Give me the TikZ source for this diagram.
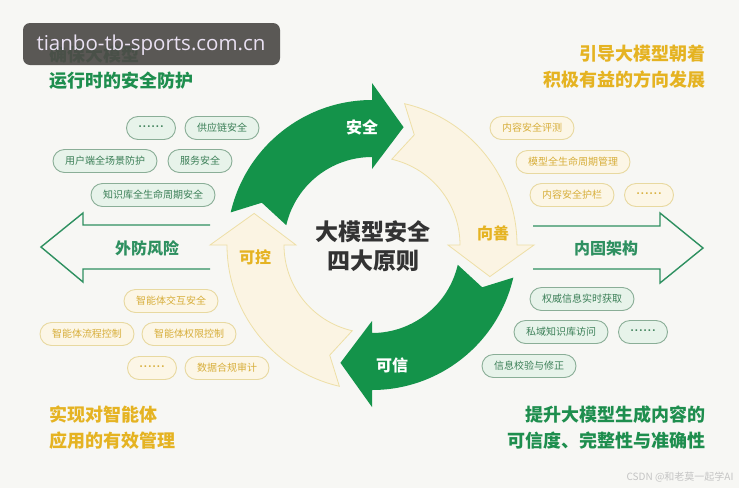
\documentclass[tikz,border=0pt]{standalone}
\usepackage{fontspec}
\setmainfont{Noto Sans CJK SC}[BoldFont={Noto Sans CJK SC Bold}]
\newfontfamily\heavy{Noto Sans CJK SC Black}
\newfontfamily\wmfont{Open Sans}
\definecolor{bg}{HTML}{F7F7F4}
\definecolor{gfill}{HTML}{14934A}
\definecolor{gtitle}{HTML}{1E8E4E}
\definecolor{yfill}{HTML}{FBF4E3}
\definecolor{yedge}{HTML}{EEDFA6}
\definecolor{ytext}{HTML}{E5B322}
\definecolor{gpfill}{HTML}{E7F3EA}
\definecolor{gpedge}{HTML}{8AAE97}
\definecolor{gptext}{HTML}{3B7F57}
\definecolor{ypfill}{HTML}{FCF6E6}
\definecolor{ypedge}{HTML}{E8D9A0}
\definecolor{yptext}{HTML}{D7AE3A}
\definecolor{outl}{HTML}{2E9060}
\definecolor{ctext}{HTML}{333333}
\definecolor{wmbg}{HTML}{4D4B48}
\definecolor{wmtext}{HTML}{E9E0F2}
\definecolor{csdn}{HTML}{C4C4C4}
\newcommand\RingArrow[3]{%
  \path[#3] (#1:145) arc[start angle=#1,end angle=#2,radius=145]
    -- (#2:162) -- ({#2-15}:122) -- (#2:76) -- (#2:88)
    arc[start angle=#2,end angle=#1,radius=88] -- ({#1-8}:118) -- cycle;}
\newcommand\sixdots{{\wmfont\fontsize{11}{12}\selectfont\bfseries ·\kern1.2pt·\kern1.2pt·\kern1.2pt·\kern1.2pt·\kern1.2pt·}}
\tikzset{
  gtitle/.style={font=\heavy\fontsize{18}{20}\selectfont, text=gtitle, inner sep=0},
  ytitle/.style={font=\heavy\fontsize{18}{20}\selectfont, text=ytext, inner sep=0},
  gpill/.style={draw=gpedge, fill=gpfill, line width=0.9, text=gptext, rounded corners=11.5,
    minimum height=23, inner xsep=12, inner ysep=0, font=\fontsize{10}{12}\selectfont},
  ypill/.style={draw=ypedge, fill=ypfill, line width=0.9, text=yptext, rounded corners=11.5,
    minimum height=23, inner xsep=12, inner ysep=0, font=\fontsize{10}{12}\selectfont},
  dots/.style={minimum width=49, inner xsep=0},
  garr/.style={fill=gfill},
  yarr/.style={fill=yfill, draw=yedge, line width=0.8},
  glabel/.style={font=\heavy\fontsize{16}{18}\selectfont, text=white},
  ylabel/.style={font=\heavy\fontsize{16}{18}\selectfont, text=ytext},
  sidearrow/.style={draw=outl, line width=1.4, line join=miter},
  sidetext/.style={font=\heavy\fontsize{16}{18}\selectfont, text=outl},
}
\begin{document}
\begin{tikzpicture}[x=1pt,y=-1pt]
\useasboundingbox (0,0) rectangle (739,488);
\fill[bg] (0,0) rectangle (739,488);

% ring
\begin{scope}[shift={(372,245)}, yscale=-1]
  \RingArrow{77}{0}{yarr}
  \RingArrow{-103}{-180}{yarr}
  \RingArrow{167}{90}{garr}
  \RingArrow{-13}{-90}{garr}
\end{scope}
\node[glabel] (l1) at (362,127) {安全};
\node[ylabel] (l2) at (493,233) {向善};
\node[glabel] (l3) at (392,365) {可信};
\node[ylabel] (l4) at (255,257) {可控};
\node[font=\heavy\fontsize{23}{25}\selectfont, text=ctext] (c1) at (373,232) {大模型安全};
\node[font=\heavy\fontsize{23}{25}\selectfont, text=ctext] (c2) at (373,261) {四大原则};

% side arrows
\draw[sidearrow] (210,225) -- (83,225) -- (83,213) -- (41,247) -- (83,282) -- (83,269) -- (210,269);
\node[sidetext] (sl) at (147,248) {外防风险};
\draw[sidearrow] (533,226) -- (660,226) -- (660,213) -- (703,248) -- (660,283) -- (660,269) -- (533,269);
\node[sidetext] (sr) at (606,248) {内固架构};

% pills left top
\node[gpill,dots] (p1) at (151,128) {\sixdots};
\node[gpill] (p2) at (222,128) {供应链安全};
\node[gpill] (p3) at (105,161) {用户端全场景防护};
\node[gpill] (p4) at (200,161) {服务安全};
\node[gpill] (p5) at (153,195) {知识库全生命周期安全};
% pills right bottom
\node[gpill] (p6) at (582,299) {权威信息实时获取};
\node[gpill] (p7) at (561,332) {私域知识库访问};
\node[gpill,dots] (p8) at (643,332) {\sixdots};
\node[gpill] (p9) at (529,366) {信息校验与修正};
% pills right top
\node[ypill] (q1) at (532,128) {内容安全评测};
\node[ypill] (q2) at (573,162) {模型全生命周期管理};
\node[ypill] (q3) at (572,195) {内容安全护栏};
\node[ypill,dots] (q4) at (649,195) {\sixdots};
% pills left bottom
\node[ypill] (q5) at (171,301) {智能体交互安全};
\node[ypill] (q6) at (87,334) {智能体流程控制};
\node[ypill] (q7) at (189,334) {智能体权限控制};
\node[ypill,dots] (q8) at (152,368) {\sixdots};
\node[ypill] (q9) at (227,368) {数据合规审计};

% titles
\node[gtitle, anchor=west] (t1) at (49,55) {确保大模型};
\node[gtitle, anchor=west] (t2) at (49,81) {运行时的安全防护};
\node[ytitle, anchor=east] (t3) at (706,54) {引导大模型朝着};
\node[ytitle, anchor=east] (t4) at (706,80) {积极有益的方向发展};
\node[ytitle, anchor=west] (t5) at (49,415) {实现对智能体};
\node[ytitle, anchor=west] (t6) at (49,441) {应用的有效管理};
\node[gtitle, anchor=east] (t7) at (706,415) {提升大模型生成内容的};
\node[gtitle, anchor=east] (t8) at (706,441) {可信度、完整性与准确性};

% watermarks
\fill[wmbg, fill opacity=0.92, rounded corners=7] (23,23) rectangle (280,65);
\node[font=\wmfont\fontsize{20.5}{22}\selectfont, text=wmtext] (wm) at (151,45) {tianbo-tb-sports.com.cn};
\node[anchor=east, font=\fontsize{10}{12}\selectfont, text=csdn] (csdn) at (737,477) {CSDN @和老莫一起学AI};
\end{tikzpicture}
\end{document}
